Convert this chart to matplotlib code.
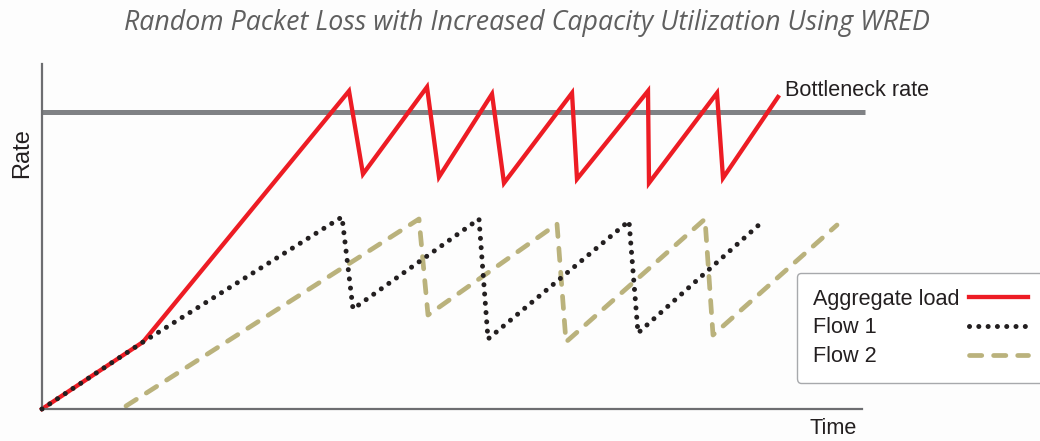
import matplotlib
matplotlib.use("Agg")
import matplotlib.pyplot as plt

# values (time, rate in arbitrary units)
agg_time = [0, 101, 307, 321, 385, 397, 450, 462, 530, 535, 606, 607, 675, 681, 736]
agg_rate = [0, 67, 318, 235, 322, 232, 315, 226, 316, 230, 318, 226, 316, 231, 312]

flow1_time = [0, 101, 300, 311, 437, 446, 587, 596, 719]
flow1_rate = [0, 67, 192, 100, 190, 70, 188, 76, 186]

flow2_time = [84, 377, 386, 515, 524, 663, 671, 795]
flow2_rate = [3, 190, 94, 185, 67, 190, 74, 184]

bottleneck_time = [0, 823]
bottleneck_rate = [297, 297]

labels = ["Aggregate load", "Flow 1", "Flow 2"]

W, H = 1040, 441
fig = plt.figure(figsize=(W / 100, H / 100), dpi=100)
fig.patch.set_facecolor("#fdfdfd")
ax = fig.add_axes([42 / W, (H - 409) / H, 820 / W, 345 / H])
ax.set_facecolor("#fdfdfd")
ax.set_xlim(0, 820)
ax.set_ylim(0, 345)

ax.plot(bottleneck_time, bottleneck_rate, color="#808285", lw=3.6, clip_on=False,
        solid_capstyle="butt", zorder=1)
ax.plot(agg_time, agg_rate, color="#ed1c24", lw=3.1, clip_on=False,
        solid_joinstyle="miter", label=labels[0], zorder=2)
ax.plot(flow1_time, flow1_rate, color="#231f20", lw=3.6, linestyle=(0, (0.01, 1.85)),
        dash_capstyle="round", clip_on=False, label=labels[1], zorder=3)
ax.plot(flow2_time, flow2_rate, color="#bab27c", lw=3.4, linestyle=(0, (2.6, 2.5)),
        dash_capstyle="round", clip_on=False, label=labels[2], zorder=2)

for s in ["top", "right"]:
    ax.spines[s].set_visible(False)
for s in ["left", "bottom"]:
    ax.spines[s].set_color("#6d6e71")
    ax.spines[s].set_linewidth(1.6)
ax.set_xticks([])
ax.set_yticks([])

txt = dict(family="Liberation Sans", color="#231f20", fontsize=15.6)
ax.text(743, 318, "Bottleneck rate", ha="left", va="center", **txt)
fig.text(22 / W, 1 - 153 / H, "Rate", rotation=90, ha="center", va="center",
         family="Liberation Sans", color="#231f20", fontsize=17)
fig.text(833 / W, 1 - 429 / H, "Time", ha="center", va="center", **txt)

fig.text(527 / W, 1 - 23 / H, "Random Packet Loss with Increased Capacity Utilization Using WRED",
         family="Open Sans", style="italic", color="#5f5f5f", fontsize=19.3,
         ha="center", va="center")

leg = fig.legend(loc="upper left", bbox_to_anchor=(797 / W, 1 - 273 / H), markerfirst=False,
                 prop={"family": "Liberation Sans", "size": 15.6}, handlelength=2.7,
                 labelspacing=0.36, borderpad=0.72, borderaxespad=0, handletextpad=0.5,
                 frameon=True, fancybox=True, framealpha=1)
leg.get_frame().set_edgecolor("#a7a9ac")
leg.get_frame().set_linewidth(1.0)
for t in leg.get_texts():
    t.set_color("#231f20")
# left-align the labels, keep the line samples flush right
for col in leg._legend_handle_box.get_children():
    col.align = "left"
    for row in col.get_children():
        row.mode = "expand"
        row.width = 215

fig.savefig("out.png", dpi=100, facecolor=fig.get_facecolor())
